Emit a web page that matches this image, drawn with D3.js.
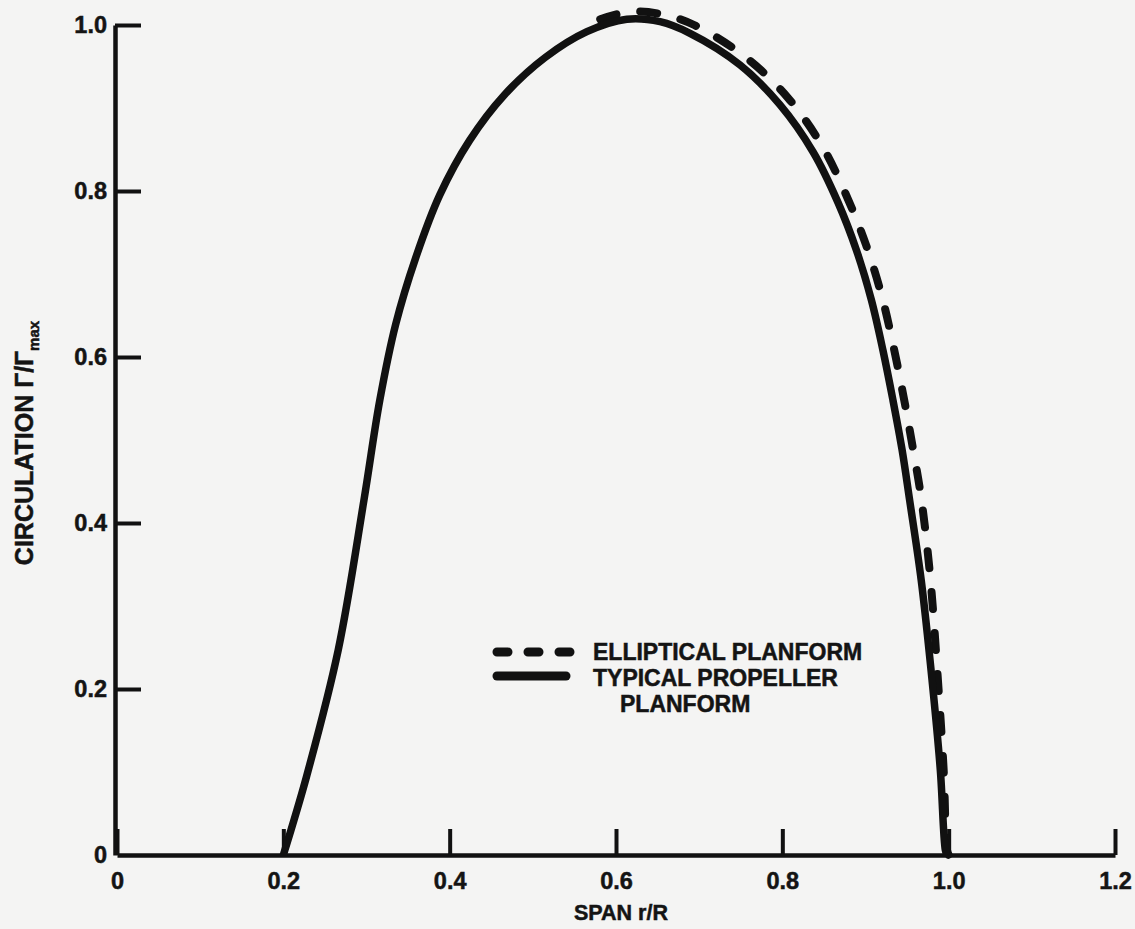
<!DOCTYPE html>
<html>
<head>
<meta charset="utf-8">
<script src="https://cdn.jsdelivr.net/npm/d3@7"></script>
<style>
  html, body { margin: 0; padding: 0; background: #f4f4f3; }
  svg { display: block; }
  text { font-family: "Liberation Sans", Arial, sans-serif; font-weight: bold; fill: #141414; stroke: #141414; stroke-width: 0.5; }
</style>
</head>
<body>
<svg id="chart" width="1135" height="929"></svg>
<script>
// typical propeller planform (solid)
var propSpan = [0.200, 0.228, 0.266, 0.297, 0.316, 0.335, 0.359, 0.388, 0.424, 0.466, 0.515, 0.565, 0.613, 0.653, 0.689,
                0.749, 0.797, 0.837, 0.867, 0.889, 0.907, 0.921, 0.933, 0.944, 0.953, 0.967, 0.980, 0.990, 0.996, 0.998];
var propCirc = [0, 0.095, 0.247, 0.428, 0.548, 0.639, 0.719, 0.795, 0.861, 0.916, 0.961, 0.992, 1.007, 1.004, 0.990,
                0.952, 0.904, 0.847, 0.786, 0.729, 0.669, 0.608, 0.548, 0.488, 0.428, 0.331, 0.211, 0.102, 0.006, 0];
// elliptical planform (dashed), only visible outboard of the peak
var ellSpan = [0.581, 0.617, 0.655, 0.694, 0.756, 0.807, 0.848, 0.879, 0.901, 0.920, 0.934, 0.946, 0.957, 0.967,
               0.978, 0.987, 0.994, 0.998, 1.000];
var ellCirc = [1.007, 1.016, 1.013, 1.000, 0.961, 0.912, 0.854, 0.790, 0.734, 0.672, 0.611, 0.551, 0.490, 0.430,
               0.333, 0.212, 0.102, 0.006, 0];

var xTicks = [0, 0.2, 0.4, 0.6, 0.8, 1.0, 1.2];
var yTicks = [0, 0.2, 0.4, 0.6, 0.8, 1.0];
var legendLabels = ["ELLIPTICAL PLANFORM", "TYPICAL PROPELLER", "PLANFORM"];

var svg = d3.select("#chart");

var x = d3.scaleLinear().domain([0, 1.2]).range([117, 1115]);
var y = d3.scaleLinear().domain([0, 1]).range([855, 25]);

var fmt = function(d) { return d === 0 ? "0" : d3.format(".1f")(d); };

// x axis, ticks point up into the plot
var xAxis = svg.append("g")
    .attr("transform", "translate(0," + y(0) + ")")
    .call(d3.axisBottom(x).tickValues(xTicks).tickSize(-26).tickSizeOuter(0).tickPadding(17).tickFormat(fmt));

// y axis, ticks point right into the plot
var yAxis = svg.append("g")
    .attr("transform", "translate(" + 115 + ",0)")
    .call(d3.axisLeft(y).tickValues(yTicks).tickSize(-26).tickSizeOuter(0).tickPadding(8).tickFormat(fmt));

[xAxis, yAxis].forEach(function(ax) {
  ax.select(".domain").attr("stroke", "#111").attr("stroke-width", 4.5);
  ax.selectAll(".tick line").attr("stroke", "#111").attr("stroke-width", 4);
  ax.selectAll(".tick text")
    .attr("font-size", 23.5)
    .attr("font-family", "Liberation Sans, Arial, sans-serif")
    .attr("font-weight", "bold")
    .attr("fill", "#141414");
});
yAxis.selectAll(".tick").filter(function(d) { return d === 0; }).select("line").remove();

// axis titles
svg.append("text")
    .attr("x", 621)
    .attr("y", 920)
    .attr("text-anchor", "middle")
    .attr("font-size", 21.5)
    .text("SPAN r/R");

var ylab = svg.append("text")
    .attr("transform", "translate(33,443) rotate(-90)")
    .attr("text-anchor", "middle")
    .attr("font-size", 25);
ylab.append("tspan").text("CIRCULATION \u0393/\u0393");
ylab.append("tspan").attr("font-size", 15).attr("dy", 6).text("max");

// curves
var line = d3.line()
    .x(function(d) { return x(d[0]); })
    .y(function(d) { return y(d[1]); })
    .curve(d3.curveCatmullRom.alpha(0.5));

var ellData = d3.zip(ellSpan, ellCirc);
var propData = d3.zip(propSpan, propCirc);

svg.append("path")
    .attr("d", line(ellData))
    .attr("fill", "none")
    .attr("stroke", "#111")
    .attr("stroke-width", 8)
    .attr("stroke-linecap", "round")
    .attr("stroke-dasharray", "17,24");

svg.append("path")
    .attr("d", line(propData))
    .attr("fill", "none")
    .attr("stroke", "#111")
    .attr("stroke-width", 7.5)
    .attr("stroke-linejoin", "round");

// legend
var legend = svg.append("g").attr("transform", "translate(493,652)");

legend.append("line")
    .attr("x1", 4).attr("x2", 77).attr("y1", 0).attr("y2", 0)
    .attr("stroke", "#111").attr("stroke-width", 9)
    .attr("stroke-linecap", "round")
    .attr("stroke-dasharray", "11,20");

legend.append("line")
    .attr("x1", 4).attr("x2", 73).attr("y1", 24).attr("y2", 24)
    .attr("stroke", "#111").attr("stroke-width", 9)
    .attr("stroke-linecap", "round");

legend.selectAll("text.lbl")
    .data(legendLabels)
    .enter().append("text")
    .attr("class", "lbl")
    .attr("x", function(d, i) { return i === 2 ? 127 : 100; })
    .attr("y", function(d, i) { return i * 26; })
    .attr("dy", "0.35em")
    .attr("font-size", 23)
    .text(function(d) { return d; });
</script>
</body>
</html>
